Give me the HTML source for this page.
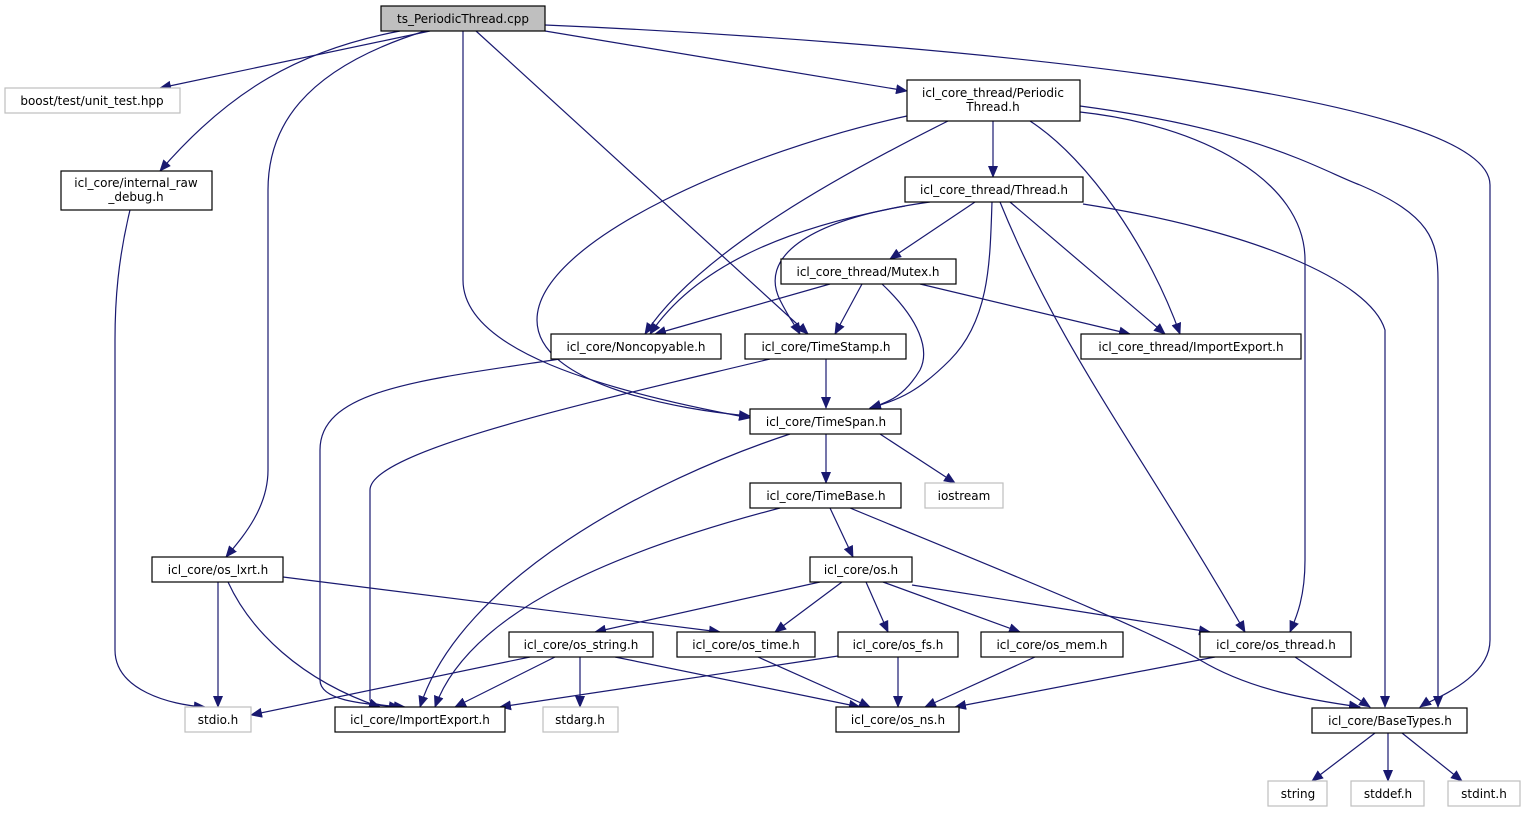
<!DOCTYPE html>
<html><head><meta charset="utf-8"><style>
html,body{margin:0;padding:0;background:#fff;}
svg{display:block;}
text{font-family:"DejaVu Sans","Liberation Sans",sans-serif;font-size:12px;fill:#000;}
</style></head><body>
<svg width="1525" height="813" viewBox="0 0 1525 813" xmlns="http://www.w3.org/2000/svg">
<defs>
<marker id="a" markerWidth="12" markerHeight="10" refX="11" refY="5" orient="auto" markerUnits="userSpaceOnUse">
<path d="M0,0 L12,5 L0,10 z" fill="#191970"/>
</marker>
</defs>
<g fill="none" stroke="#191970" stroke-width="1.2" marker-end="url(#a)">
<path d="M430,31 L160,88"/>
<path d="M400,31 C300,50 230,90 160,171"/>
<path d="M425,31 C300,70 268,130 268,190 L268,470 C268,510 240,540 226,557"/>
<path d="M463,31 L463,280 C463,350 600,390 750,418"/>
<path d="M476,31 L808,334"/>
<path d="M545,31 L907,91"/>
<path d="M545,25 C900,40 1490,90 1490,185 L1490,640 C1490,680 1430,700 1420,707"/>
<path d="M993,121 L993,177"/>
<path d="M948,121 C850,170 700,250 645,334"/>
<path d="M907,116 C750,150 537,240 537,320 C537,385 680,410 750,416"/>
<path d="M1030,121 C1090,160 1150,250 1180,334"/>
<path d="M1080,112 C1200,125 1305,180 1305,260 L1305,560 C1305,600 1295,620 1290,632"/>
<path d="M1080,106 C1260,130 1320,170 1360,185 C1430,215 1438,240 1438,280 L1438,707"/>
<path d="M975,202 L890,259"/>
<path d="M905,206 C800,225 700,260 650,334"/>
<path d="M930,202 C800,220 760,260 780,300 C790,320 795,325 800,334"/>
<path d="M992,202 C990,260 990,320 950,360 C920,390 900,400 870,408"/>
<path d="M1010,202 L1165,334"/>
<path d="M1000,202 C1060,350 1140,450 1245,632"/>
<path d="M1083,204 C1250,230 1370,280 1385,330 L1385,707"/>
<path d="M830,284 L655,334"/>
<path d="M862,284 L835,334"/>
<path d="M882,284 C920,320 930,350 920,370 C905,395 890,402 870,408"/>
<path d="M920,284 L1130,334"/>
<path d="M560,359 C420,380 320,390 320,450 L320,680 C320,700 360,704 400,707"/>
<path d="M770,359 C600,400 370,450 370,490 L370,700 C370,705 390,706 405,707"/>
<path d="M826,359 L826,408"/>
<path d="M826,434 L826,483"/>
<path d="M880,434 L955,483"/>
<path d="M790,434 C650,480 460,580 420,707"/>
<path d="M830,508 L853,557"/>
<path d="M780,508 C620,550 470,610 435,707"/>
<path d="M850,508 C1000,570 1150,630 1200,660 C1250,690 1310,700 1360,707"/>
<path d="M130,210 C118,260 115,300 115,340 L115,650 C115,690 170,705 205,707"/>
<path d="M218,582 L218,707"/>
<path d="M228,582 C250,630 300,680 380,707"/>
<path d="M283,577 L720,632"/>
<path d="M820,582 L595,632"/>
<path d="M842,582 L775,632"/>
<path d="M866,582 L888,632"/>
<path d="M883,582 L1020,632"/>
<path d="M912,585 L1210,632"/>
<path d="M530,657 L251,715"/>
<path d="M555,657 L455,707"/>
<path d="M580,657 L580,707"/>
<path d="M615,657 L860,707"/>
<path d="M758,657 L870,707"/>
<path d="M838,656 L500,707"/>
<path d="M898,657 L898,707"/>
<path d="M1035,657 L925,707"/>
<path d="M1215,657 L955,707"/>
<path d="M1295,657 L1370,707"/>
<path d="M1375,733 L1312,781"/>
<path d="M1388,733 L1388,781"/>
<path d="M1402,733 L1462,781"/>
</g>
<g stroke-width="1.2">
<rect x="381" y="6" width="164" height="25" fill="#bfbfbf" stroke="#000"/>
<rect x="5" y="88" width="175" height="25" fill="#fff" stroke="#bfbfbf"/>
<rect x="61" y="171" width="151" height="39" fill="#fff" stroke="#000"/>
<rect x="907" y="80" width="173" height="41" fill="#fff" stroke="#000"/>
<rect x="905" y="177" width="178" height="25" fill="#fff" stroke="#000"/>
<rect x="781" y="259" width="175" height="25" fill="#fff" stroke="#000"/>
<rect x="551" y="334" width="170" height="25" fill="#fff" stroke="#000"/>
<rect x="745" y="334" width="161" height="25" fill="#fff" stroke="#000"/>
<rect x="1081" y="334" width="220" height="25" fill="#fff" stroke="#000"/>
<rect x="750" y="409" width="151" height="25" fill="#fff" stroke="#000"/>
<rect x="925" y="483" width="78" height="25" fill="#fff" stroke="#bfbfbf"/>
<rect x="750" y="483" width="151" height="25" fill="#fff" stroke="#000"/>
<rect x="810" y="557" width="102" height="25" fill="#fff" stroke="#000"/>
<rect x="152" y="557" width="131" height="25" fill="#fff" stroke="#000"/>
<rect x="509" y="632" width="144" height="25" fill="#fff" stroke="#000"/>
<rect x="677" y="632" width="138" height="25" fill="#fff" stroke="#000"/>
<rect x="838" y="632" width="120" height="25" fill="#fff" stroke="#000"/>
<rect x="981" y="632" width="142" height="25" fill="#fff" stroke="#000"/>
<rect x="1200" y="632" width="151" height="25" fill="#fff" stroke="#000"/>
<rect x="185" y="707" width="66" height="25" fill="#fff" stroke="#bfbfbf"/>
<rect x="335" y="707" width="170" height="25" fill="#fff" stroke="#000"/>
<rect x="543" y="707" width="75" height="25" fill="#fff" stroke="#bfbfbf"/>
<rect x="836" y="707" width="123" height="25" fill="#fff" stroke="#000"/>
<rect x="1312" y="708" width="155" height="25" fill="#fff" stroke="#000"/>
<rect x="1268" y="781" width="59" height="25" fill="#fff" stroke="#bfbfbf"/>
<rect x="1351" y="781" width="73" height="25" fill="#fff" stroke="#bfbfbf"/>
<rect x="1448" y="781" width="72" height="25" fill="#fff" stroke="#bfbfbf"/>
</g>
<g text-anchor="middle">
<text x="463" y="23">ts_PeriodicThread.cpp</text>
<text x="92" y="105">boost/test/unit_test.hpp</text>
<text x="136" y="187">icl_core/internal_raw</text>
<text x="136" y="201">_debug.h</text>
<text x="993" y="97">icl_core_thread/Periodic</text>
<text x="993" y="111">Thread.h</text>
<text x="994" y="194">icl_core_thread/Thread.h</text>
<text x="868" y="276">icl_core_thread/Mutex.h</text>
<text x="636" y="351">icl_core/Noncopyable.h</text>
<text x="826" y="351">icl_core/TimeStamp.h</text>
<text x="1191" y="351">icl_core_thread/ImportExport.h</text>
<text x="826" y="426">icl_core/TimeSpan.h</text>
<text x="964" y="500">iostream</text>
<text x="826" y="500">icl_core/TimeBase.h</text>
<text x="861" y="574">icl_core/os.h</text>
<text x="218" y="574">icl_core/os_lxrt.h</text>
<text x="581" y="649">icl_core/os_string.h</text>
<text x="746" y="649">icl_core/os_time.h</text>
<text x="898" y="649">icl_core/os_fs.h</text>
<text x="1052" y="649">icl_core/os_mem.h</text>
<text x="1276" y="649">icl_core/os_thread.h</text>
<text x="218" y="724">stdio.h</text>
<text x="420" y="724">icl_core/ImportExport.h</text>
<text x="580" y="724">stdarg.h</text>
<text x="898" y="724">icl_core/os_ns.h</text>
<text x="1390" y="725">icl_core/BaseTypes.h</text>
<text x="1298" y="798">string</text>
<text x="1388" y="798">stddef.h</text>
<text x="1484" y="798">stdint.h</text>
</g>
</svg>
</body></html>
